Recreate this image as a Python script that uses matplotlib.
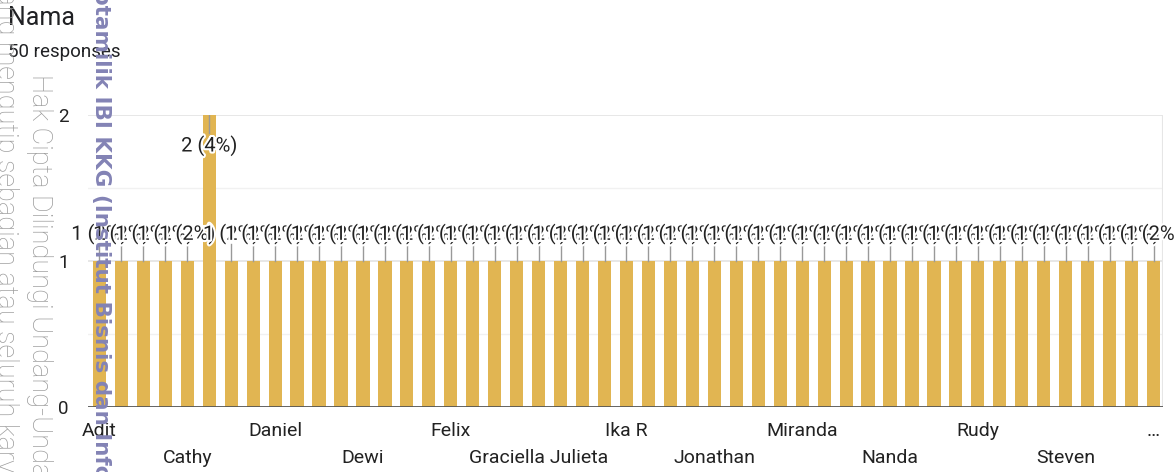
import matplotlib
matplotlib.use('Agg')
import matplotlib.pyplot as plt
import matplotlib.patheffects as pe
import numpy as np

# Data
counts = [1, 1, 1, 1, 1, 2, 1, 1, 1, 1, 1, 1, 1, 1, 1, 1, 1,
          1, 1, 1, 1, 1, 1, 1, 1, 1, 1, 1, 1, 1, 1, 1, 1,
          1, 1, 1, 1, 1, 1, 1, 1, 1, 1, 1, 1, 1, 1, 1, 1]
total = 50
tick_idx = [0, 4, 8, 12, 16, 20, 24, 28, 32, 36, 40, 44, 48]
tick_labels = ['Adit', 'Cathy', 'Daniel', 'Dewi', 'Felix', 'Graciella Julieta',
               'Ika R', 'Jonathan', 'Miranda', 'Nanda', 'Rudy', 'Steven', '…']
y_ticks = [0, 1, 2]

plt.rcParams['font.family'] = ['Roboto', 'DejaVu Sans']

W, H = 1174, 472
fig = plt.figure(figsize=(W / 100, H / 100), dpi=100)
ax = fig.add_axes([88 / W, (H - 407) / H, (1163 - 88) / W, (407 - 115) / H])

x = np.arange(len(counts))
bar_color = '#e1b552'
ax.bar(x, counts, width=0.6, color=bar_color, zorder=2)

ax.set_xlim(-0.52, 48.43)
ax.set_ylim(0, 2)

# grid
for v in [0.5, 1.5]:
    ax.axhline(v, color='#f1f1f1', lw=1, zorder=0)
for v in [1, 2]:
    ax.axhline(v, color='#e3e3e3', lw=1.2, zorder=0)
ax.axhline(0, color='#555555', lw=2, zorder=3)
ax.axvline(48.43, color='#e6e6e6', lw=1.5, zorder=0)

for s in ax.spines.values():
    s.set_visible(False)

ax.set_yticks(y_ticks)
ax.set_yticklabels([str(v) for v in y_ticks], fontsize=13.5, color='#222222')
ax.tick_params(axis='y', length=0, pad=14)

# two rows of x labels
row1 = [i for k, i in enumerate(tick_idx) if k % 2 == 0]
row2 = [i for k, i in enumerate(tick_idx) if k % 2 == 1]
ax.set_xticks(row1)
ax.set_xticklabels([tick_labels[k] for k in range(len(tick_idx)) if k % 2 == 0],
                   fontsize=14, color='#222222')
ax.set_xticks(row2, minor=True)
ax.set_xticklabels([tick_labels[k] for k in range(len(tick_idx)) if k % 2 == 1],
                   minor=True, fontsize=14, color='#222222')
ax.tick_params(axis='x', which='major', length=0, pad=11)
ax.tick_params(axis='x', which='minor', length=0, pad=30)

# value annotations
halo = [pe.withStroke(linewidth=3, foreground='white')]
for i, c in enumerate(counts):
    pct = round(100 * c / total)
    txt = f'{c} ({pct}%)'
    if c >= 2:
        ax.plot([i, i], [c, c - 0.12], color='#999999', lw=1, zorder=4)
        ax.text(i, c - 0.21, txt, ha='center', va='center', fontsize=14.5,
                color='#222222', path_effects=halo, zorder=5)
    else:
        ax.plot([i, i], [c, c + 0.115], color='#999999', lw=1, zorder=4)
        ax.text(i, c + 0.185, txt, ha='center', va='center', fontsize=14.5,
                color='#222222', path_effects=halo, zorder=5, clip_on=False)

# header
fig.text(8 / W, 1 - 18 / H, 'Nama', fontsize=18, color='#202124', va='center', ha='left')
fig.text(8 / W, 1 - 52 / H, '50 responses', fontsize=13.5, color='#202124', va='center', ha='left')

# watermarks
fig.text(40 / W, 1 - 74 / H, 'Hak Cipta Dilindungi Undang-Undang', rotation=-90,
         rotation_mode='anchor', ha='left', va='center', fontsize=19.5,
         color='#9c9c9c', fontweight='light')
fig.text(6 / W, 1 + 62 / H,
         'Dilarang mengutip sebagian atau seluruh karya tulis ini tanpa mencantumkan dan menyebutkan sumber',
         rotation=-90, rotation_mode='anchor', ha='left', va='center', fontsize=19.5,
         color='#9c9c9c', fontweight='light')
fig.text(101 / W, 1 + 88 / H,
         'Hak Ciptamilik IBI KKG (Institut Bisnis dan Informatika Kwik Kian Gie)',
         rotation=-90, rotation_mode='anchor', ha='left', va='center', fontsize=15.5,
         color='#8383b5', fontweight='bold', family='DejaVu Sans', zorder=10)

fig.savefig('out.png', dpi=100)
